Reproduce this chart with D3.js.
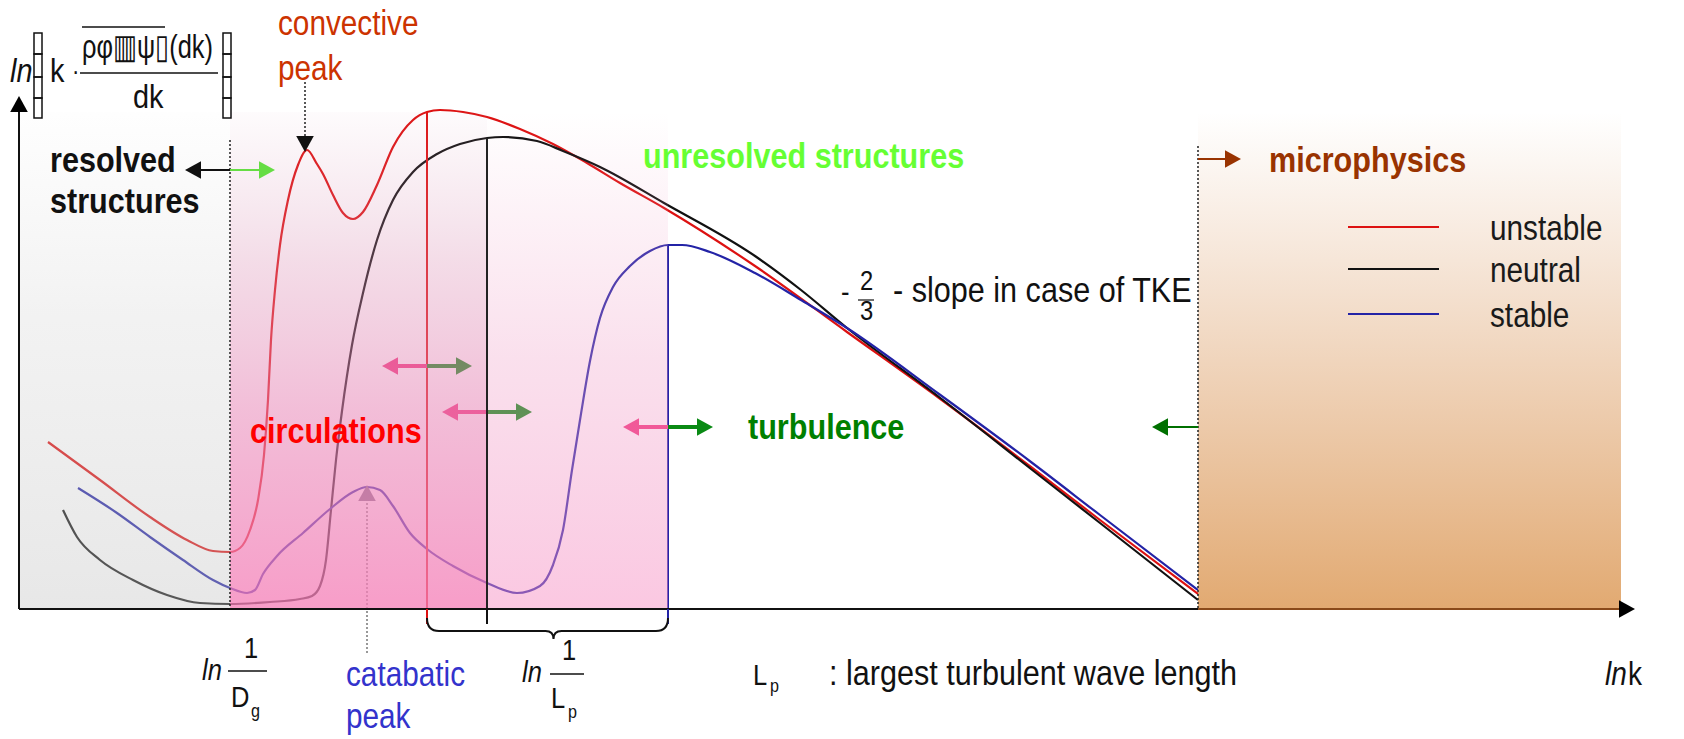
<!DOCTYPE html>
<html>
<head>
<meta charset="utf-8">
<script src="https://cdn.jsdelivr.net/npm/d3@7"></script>
<style>
  body { margin: 0; background: #fff; }
  svg text { font-family: "Liberation Sans Narrow", "Liberation Sans", Arial, sans-serif; }
  .bold { font-weight: bold; }
</style>
</head>
<body>
<div id="chart"></div>
<script>
// Spectrum sketch: [ln k, ln(k*E)] in arbitrary units
var unstable = [
  [29,167],[81,129],[131,92],[168,69],[194,58],[211,57],[221,61],[231,79],[239,109],[245,154],
  [249,209],[252,269],[256,319],[261,364],[269,409],[279,444],[288,459],[298,445],[304,435],
  [314,414],[324,396],[334,390],[344,397],[358,424],[374,462],[394,489],[408,497],[421,499],
  [444,497],[468,492],[501,480],[534,465],[568,446],[601,426],[645,401],[736,343],[828,277],
  [920,211],[1012,142],[1081,89],[1179,15]
]
var neutral = [
  [44,99],[58,72],[81,49],[114,29],[148,14],[181,6],[211,5],[251,7],[281,10],[293,13],[301,23],
  [307,49],[312,99],[317,149],[323,198],[333,264],[344,316],[358,369],[374,409],[394,437],
  [418,455],[441,465],[468,471],[484,472],[518,468],[544,458],[581,442],[645,406],[736,353],
  [782,319],[828,281],[920,212],[1012,140],[1081,86],[1179,9]
]
var stable = [
  [59,121],[98,96],[131,72],[164,49],[194,29],[211,21],[228,16],[236,19],[244,35],[258,53],
  [284,76],[311,100],[334,117],[348,122],[361,119],[374,103],[391,76],[408,60],[434,43],
  [468,26],[498,16],[521,23],[534,44],[544,79],[553,139],[561,189],[571,248],[581,291],
  [594,322],[611,343],[631,358],[649,364],[663,364],[691,357],[736,336],[782,309],[828,281],
  [920,215],[1012,147],[1081,94],[1179,19]
]
var seriesNames = ["unstable", "neutral", "stable"]
var seriesColors = ["#dd1111", "#111111", "#2323a6"]

// ln k of the scale boundaries
var lnDg = 211
var lnLp = [408, 468, 649]        // unstable, neutral, stable
var lnLpPeak = [497, 471, 364]
var lnMicro = 1179
var lnEnd = 1602
var boxTop = 497
var convectivePeak = [288, 459]
var catabaticPeak = [348, 122]
var exchangeLevels = [243, 197, 182]   // height of the circulation / turbulence arrows

var width = 1684, height = 739
var narrow = 0.85   // no narrow font installed, squeeze the sans instead

var svg = d3.select("#chart").append("svg")
  .attr("width", width)
  .attr("height", height)

var x = d3.scaleLinear().domain([0, 1616]).range([19, 1635])
var y = d3.scaleLinear().domain([0, 500]).range([609, 109])

var defs = svg.append("defs")
function vGrad(id, stops) {
  var g = defs.append("linearGradient").attr("id", id)
    .attr("x1", 0).attr("y1", 0).attr("x2", 0).attr("y2", 1)
  stops.forEach(s => g.append("stop").attr("offset", s[0]).attr("stop-color", s[1]).attr("stop-opacity", s[2]))
}
vGrad("gGray", [[0, "#d0d0d0", 0.02], [0.4, "#cccccc", 0.25], [1, "#c4c4c4", 0.4]])
vGrad("gPink", [[0, "#d8a0bc", 0.04], [0.3, "#dc92b6", 0.32], [0.6, "#e888b8", 0.55], [1, "#f580b8", 0.77]])
vGrad("gPinkLight", [[0, "#f0a0c4", 0.0], [0.5, "#f0a0c8", 0.33], [1, "#f790c4", 0.5]])
vGrad("gBrown", [[0, "#dca070", 0.0], [1, "#de9e5e", 0.88]])

function head(g, px, py, dir, size, color) {
  // dir: "l", "r", "u", "d"
  var s = size, w = size * 0.55, p
  if (dir === "r") p = [[px, py], [px - s, py - w], [px - s, py + w]]
  if (dir === "l") p = [[px, py], [px + s, py - w], [px + s, py + w]]
  if (dir === "u") p = [[px, py], [px - w, py + s], [px + w, py + s]]
  if (dir === "d") p = [[px, py], [px - w, py - s], [px + w, py - s]]
  g.append("path").attr("d", "M" + p.join("L") + "Z").attr("fill", color)
}

function hArrow(g, x1, py, x2, color, sw) {
  var dir = x2 > x1 ? 1 : -1
  g.append("line")
    .attr("x1", x1).attr("x2", x2 - dir * 12)
    .attr("y1", py).attr("y2", py)
    .attr("stroke", color).attr("stroke-width", sw || 3)
  head(g, x2, py, dir > 0 ? "r" : "l", 16, color)
}

// ---- layer 1: curves and marks that sit under the shaded boxes
var under = svg.append("g").attr("class", "under")

var line = d3.line()
  .x(d => x(d[0]))
  .y(d => y(d[1]))
  .curve(d3.curveMonotoneX)

;[unstable, neutral, stable].forEach((s, i) => {
  under.append("path")
    .datum(s)
    .attr("class", "curve " + seriesNames[i])
    .attr("d", line)
    .attr("fill", "none")
    .attr("stroke", seriesColors[i])
    .attr("stroke-width", 2.2)
})

// vertical lines at ln 1/Lp
lnLp.forEach((k, i) => {
  under.append("line")
    .attr("x1", x(k)).attr("x2", x(k))
    .attr("y1", y(lnLpPeak[i])).attr("y2", y(0))
    .attr("stroke", seriesColors[i]).attr("stroke-width", 2)
})

// circulation <-> turbulence exchange arrows
lnLp.forEach((k, i) => {
  var cx = x(k), cy = y(exchangeLevels[i])
  hArrow(under, cx, cy, cx - 45, "#f0307c", 4)
  hArrow(under, cx, cy, cx + 45, "#0a8a14", 4)
})

// catabatic peak pointer
under.append("line")
  .attr("x1", x(catabaticPeak[0])).attr("x2", x(catabaticPeak[0]))
  .attr("y1", y(catabaticPeak[1]) + 12).attr("y2", 653)
  .attr("stroke", "#777").attr("stroke-width", 1.5).attr("stroke-dasharray", "2,2")
head(under, x(catabaticPeak[0]), y(catabaticPeak[1]) - 2, "u", 16, "#7a6f86")

// ---- layer 2: shaded regions
var boxes = svg.append("g").attr("class", "boxes")
boxes.append("rect")
  .attr("x", x(0)).attr("y", y(boxTop))
  .attr("width", x(lnDg) - x(0)).attr("height", y(0) - y(boxTop))
  .attr("fill", "url(#gGray)")
boxes.append("rect")
  .attr("x", x(lnDg)).attr("y", y(boxTop))
  .attr("width", x(lnLp[1]) - x(lnDg)).attr("height", y(0) - y(boxTop))
  .attr("fill", "url(#gPink)")
boxes.append("rect")
  .attr("x", x(lnLp[1])).attr("y", y(boxTop))
  .attr("width", x(lnLp[2]) - x(lnLp[1])).attr("height", y(0) - y(boxTop))
  .attr("fill", "url(#gPinkLight)")
boxes.append("rect")
  .attr("x", x(lnMicro)).attr("y", y(boxTop))
  .attr("width", x(lnEnd) - x(lnMicro)).attr("height", y(0) - y(boxTop))
  .attr("fill", "url(#gBrown)")

// neutral Lp line stays dark on top of the pink
svg.append("line")
  .attr("x1", x(lnLp[1])).attr("x2", x(lnLp[1]))
  .attr("y1", y(lnLpPeak[1])).attr("y2", y(0))
  .attr("stroke", "#222").attr("stroke-width", 2)

// dotted scale boundaries
svg.append("line")
  .attr("x1", x(lnDg)).attr("x2", x(lnDg))
  .attr("y1", 140).attr("y2", y(0))
  .attr("stroke", "#222").attr("stroke-width", 1.5).attr("stroke-dasharray", "2,2")
svg.append("line")
  .attr("x1", x(lnMicro)).attr("x2", x(lnMicro))
  .attr("y1", 146).attr("y2", y(0))
  .attr("stroke", "#222").attr("stroke-width", 1.5).attr("stroke-dasharray", "2,2")

// ---- axes
var axes = svg.append("g").attr("class", "axes")
axes.append("line").attr("x1", x(0)).attr("x2", x(1616) - 12).attr("y1", y(0)).attr("y2", y(0))
  .attr("stroke", "#111").attr("stroke-width", 2)
axes.append("line").attr("x1", x(lnMicro)).attr("x2", x(lnEnd)).attr("y1", y(0)).attr("y2", y(0))
  .attr("stroke", "#8a4a1a").attr("stroke-width", 2)
head(axes, x(1616), y(0), "r", 16, "#000")
axes.append("line").attr("x1", x(0)).attr("x2", x(0)).attr("y1", y(0)).attr("y2", 108)
  .attr("stroke", "#111").attr("stroke-width", 2)
head(axes, x(0), 96, "u", 16, "#000")

// ticks and brace below the axis for 1/Lp
lnLp.forEach((k, i) => {
  axes.append("line").attr("x1", x(k)).attr("x2", x(k)).attr("y1", y(0)).attr("y2", 624)
    .attr("stroke", seriesColors[i]).attr("stroke-width", 2)
})
var bL = x(lnLp[0]), bR = x(lnLp[2]), bM = (bL + bR) / 2 + 6
axes.append("path")
  .attr("d", `M${bL},618 Q${bL},631 ${bL + 12},631 L${bM - 8},631 Q${bM},631 ${bM},639 Q${bM},631 ${bM + 8},631 L${bR - 12},631 Q${bR},631 ${bR},618`)
  .attr("fill", "none").attr("stroke", "#111").attr("stroke-width", 2)

// ---- annotations on top
var ann = svg.append("g").attr("class", "annotations")

function label(t, px, py, size, color, cls, style) {
  return ann.append("text")
    .attr("transform", `translate(${px},${py}) scale(${narrow},1)`)
    .attr("font-size", size)
    .attr("fill", color)
    .attr("class", cls || null)
    .attr("font-style", style || null)
    .text(t)
}

// y axis label
label("ln", 10, 82, 34, "#111", null, "italic")
;[34, 223].forEach(bx => {
  [33, 54, 77, 98].forEach((by, j) => {
    var h = [21, 23, 21, 20][j]
    ann.append("rect").attr("x", bx).attr("y", by).attr("width", 8).attr("height", h)
      .attr("fill", "none").attr("stroke", "#111").attr("stroke-width", 1.5)
  })
})
label("k", 50, 82, 34, "#111")
label("·", 72, 80, 26, "#111")
ann.append("text")
  .attr("x", 82).attr("y", 58)
  .attr("font-size", 34).attr("fill", "#111")
  .attr("textLength", 131).attr("lengthAdjust", "spacingAndGlyphs")
  .text("ρφ▥ψ▯(dk)")
ann.append("line").attr("x1", 82).attr("x2", 165).attr("y1", 27).attr("y2", 27).attr("stroke", "#111").attr("stroke-width", 1.5)
ann.append("line").attr("x1", 80).attr("x2", 218).attr("y1", 73).attr("y2", 73).attr("stroke", "#111").attr("stroke-width", 1.5)
label("dk", 133, 108, 34, "#111")

// convective peak
label("convective", 278, 35, 35, "#cc3300")
label("peak", 278, 80, 35, "#cc3300")
ann.append("line")
  .attr("x1", x(convectivePeak[0]) - 2).attr("x2", x(convectivePeak[0]) - 2)
  .attr("y1", 82).attr("y2", 138)
  .attr("stroke", "#222").attr("stroke-width", 1.5).attr("stroke-dasharray", "2,2")
head(ann, x(convectivePeak[0]) - 2, y(convectivePeak[1]) + 2, "d", 16, "#111")

// resolved structures
label("resolved", 50, 172, 36, "#111", "bold")
label("structures", 50, 213, 36, "#111", "bold")
hArrow(ann, x(lnDg), 170, 185, "#111", 2)
hArrow(ann, x(lnDg), 170, 275, "#66dd44", 2)

label("circulations", 250, 443, 36, "#ff0000", "bold")
label("unresolved structures", 643, 168, 36, "#66ff33", "bold")
label("turbulence", 748, 439, 36, "#008000", "bold")
hArrow(ann, x(lnMicro), y(exchangeLevels[2]), 1152, "#007000", 2)

label("microphysics", 1269, 172, 36, "#993300", "bold")
hArrow(ann, x(lnMicro), 159, 1241, "#993300", 2)

// legend
var legend = ann.append("g").attr("class", "legend")
seriesNames.forEach((n, i) => {
  var ly = [227, 269, 314][i]
  legend.append("line").attr("x1", 1348).attr("x2", 1439).attr("y1", ly).attr("y2", ly)
    .attr("stroke", seriesColors[i]).attr("stroke-width", 2)
  legend.append("text")
    .attr("transform", `translate(1490,${ly + 13}) scale(${narrow},1)`)
    .attr("font-size", 35).attr("fill", "#1a1a1a").text(n)
})

// slope note
label("-", 841, 302, 30, "#111")
label("2", 860, 290, 28, "#111")
ann.append("line").attr("x1", 858).attr("x2", 874).attr("y1", 300).attr("y2", 300).attr("stroke", "#111").attr("stroke-width", 1.2)
label("3", 860, 320, 28, "#111")
label("- slope in case of TKE", 893, 302, 36, "#111")

// x axis labels
label("ln", 202, 680, 30, "#111", null, "italic")
label("1", 244, 658, 30, "#111")
ann.append("line").attr("x1", 228).attr("x2", 267).attr("y1", 671).attr("y2", 671).attr("stroke", "#111").attr("stroke-width", 1.5)
label("D", 231, 707, 30, "#111")
label("g", 251, 717, 19, "#111")

label("catabatic", 346, 686, 35, "#3333cc")
label("peak", 346, 728, 35, "#3333cc")

label("ln", 522, 682, 30, "#111", null, "italic")
label("1", 562, 660, 30, "#111")
ann.append("line").attr("x1", 550).attr("x2", 584).attr("y1", 674).attr("y2", 674).attr("stroke", "#111").attr("stroke-width", 1.5)
label("L", 551, 708, 30, "#111")
label("p", 568, 718, 19, "#111")

label("L", 753, 685, 30, "#111")
label("p", 770, 692, 19, "#111")
label(": largest turbulent wave length", 829, 685, 36, "#111")

label("ln", 1605, 685, 33, "#111", null, "italic")
label("k", 1628, 685, 33, "#111")
</script>
</body>
</html>
